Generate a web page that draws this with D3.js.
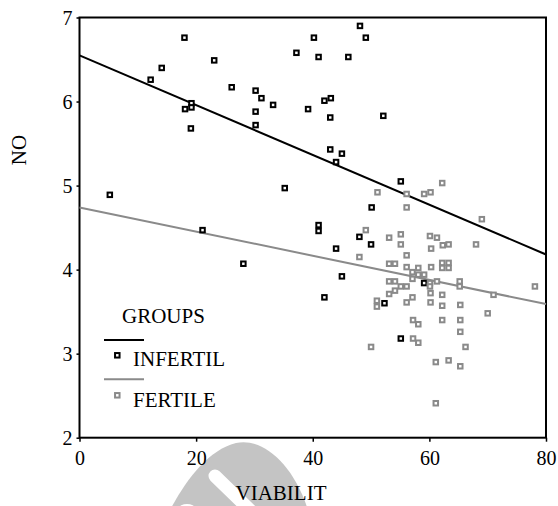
<!DOCTYPE html>
<html>
<head>
<meta charset="utf-8">
<script src="https://cdn.jsdelivr.net/npm/d3@7/dist/d3.min.js"></script>
<style>
  body { margin: 0; background: #fff; }
  svg { display: block; }
  text { font-family: "Liberation Serif", "Times New Roman", serif; fill: #000; }
</style>
</head>
<body>
<svg id="chart" width="558" height="506"></svg>
<script>
var infertilX = [18.0, 14.1, 12.2, 23.1, 26.1, 30.2, 31.2, 33.2, 30.2, 30.2, 19.2, 18.1, 19.2, 19.1, 5.2,
  35.2, 37.2, 39.2, 48.1, 40.2, 49.1, 41.0, 46.1, 43.1, 42.0, 43.0, 52.1, 43.0, 45.0, 44.0,
  55.1, 50.1, 21.1, 28.1, 41.0, 41.0, 48.0, 50.0, 44.0, 45.0, 42.0, 52.3, 59.1, 55.1];
var infertilY = [6.76, 6.40, 6.26, 6.49, 6.17, 6.13, 6.04, 5.96, 5.88, 5.72, 5.98, 5.91, 5.93, 5.68, 4.89,
  4.97, 6.58, 5.91, 6.90, 6.76, 6.76, 6.53, 6.53, 6.04, 6.01, 5.81, 5.83, 5.43, 5.38, 5.28,
  5.05, 4.74, 4.47, 4.07, 4.53, 4.46, 4.39, 4.30, 4.25, 3.92, 3.67, 3.60, 3.84, 3.18];

var fertileX = [62.2, 51.1, 56.1, 59.1, 60.2, 56.1, 69.0, 49.1, 53.1, 55.1, 55.1, 60.1, 61.3, 60.3, 62.3,
  63.3, 68.0, 48.0, 56.1, 53.1, 54.1, 56.1, 58.1, 60.3, 62.2, 63.3, 62.2, 63.3, 57.1, 58.1,
  59.1, 57.1, 53.1, 54.1, 60.1, 61.3, 65.2, 65.2, 55.1, 56.1, 54.1, 60.1, 60.2, 62.2, 53.1,
  56.1, 57.1, 51.0, 51.0, 60.2, 62.2, 65.3, 71.0, 78.1, 70.0, 57.2, 58.1, 62.2, 65.3, 65.3,
  57.2, 58.1, 50.0, 66.2, 61.1, 63.3, 65.3, 61.1];
var fertileY = [5.03, 4.92, 4.90, 4.90, 4.92, 4.74, 4.60, 4.47, 4.38, 4.42, 4.30, 4.40, 4.38, 4.25, 4.29,
  4.30, 4.30, 4.15, 4.17, 4.07, 4.07, 4.03, 4.02, 4.03, 4.08, 4.08, 4.02, 4.02, 3.97, 3.94,
  3.94, 3.89, 3.86, 3.86, 3.84, 3.86, 3.86, 3.80, 3.80, 3.80, 3.75, 3.80, 3.72, 3.70, 3.71,
  3.61, 3.67, 3.63, 3.56, 3.61, 3.57, 3.58, 3.70, 3.80, 3.48, 3.40, 3.35, 3.40, 3.40, 3.26,
  3.18, 3.13, 3.08, 3.08, 2.90, 2.92, 2.85, 2.41];

// fitted lines, value at x=0 and x=80
var fitX = [0, 80];
var infertilFit = [6.55, 4.18];
var fertileFit = [4.74, 3.59];

var xTicks = [0, 20, 40, 60, 80];
var yTicks = [2, 3, 4, 5, 6, 7];

var black = "#000000", grey = "#8a8a8a";
var serif = "'Liberation Serif', 'Times New Roman', serif";

var svg = d3.select("#chart").style("font-family", serif);
var x = d3.scaleLinear().domain([0, 80]).range([79.5, 546]);
var y = d3.scaleLinear().domain([2, 7]).range([437.7, 17.5]);

// watermark behind everything
svg.append("path")
  .attr("d", "M170,510 C186,480 208,450 236,443 C262,437 293,463 308,510 Z")
  .attr("fill", "#c4c4c4");
svg.append("line")
  .attr("x1", 215).attr("y1", 476).attr("x2", 252).attr("y2", 512)
  .attr("stroke", "#fff").attr("stroke-width", 13).attr("stroke-linecap", "round");
svg.append("ellipse")
  .attr("cx", 187).attr("cy", 508).attr("rx", 8).attr("ry", 4).attr("fill", "#fff");

var xAxis = svg.append("g")
  .attr("transform", "translate(0," + y(2) + ")")
  .call(d3.axisBottom(x).tickValues(xTicks).tickFormat(d3.format("d"))
    .tickSize(4).tickSizeOuter(0).tickPadding(9));
var yAxis = svg.append("g")
  .attr("transform", "translate(" + x(0) + ",0)")
  .call(d3.axisLeft(y).tickValues(yTicks).tickFormat(d3.format("d"))
    .tickSize(3).tickSizeOuter(0).tickPadding(4));

[xAxis, yAxis].forEach(function(a){
  a.attr("font-family", serif);
  a.select(".domain").remove();
  a.selectAll(".tick line").attr("stroke", black).attr("stroke-width", 1.5);
  a.selectAll(".tick text").attr("font-size", 20).style("font-family", serif).attr("fill", black);
});
yAxis.selectAll(".tick text").attr("dy", "0.34em");

svg.append("rect")
  .attr("x", x(0)).attr("y", y(7))
  .attr("width", x(80) - x(0)).attr("height", y(2) - y(7))
  .attr("fill", "none").attr("stroke", black).attr("stroke-width", 2);

var line = d3.line()
  .x(function(d){ return x(d[0]); })
  .y(function(d){ return y(d[1]); });

svg.append("path")
  .attr("d", line(d3.zip(fitX, infertilFit)))
  .attr("stroke", black).attr("stroke-width", 2).attr("fill", "none");
svg.append("path")
  .attr("d", line(d3.zip(fitX, fertileFit)))
  .attr("stroke", grey).attr("stroke-width", 2).attr("fill", "none");

var s = 4.5;
function drawPts(xs, ys, col){
  svg.append("g").selectAll("rect")
    .data(d3.zip(xs, ys))
    .enter().append("rect")
    .attr("x", function(d){ return x(d[0]) - s / 2; })
    .attr("y", function(d){ return y(d[1]) - s / 2; })
    .attr("width", s).attr("height", s)
    .attr("fill", "#fff")
    .attr("stroke", col)
    .attr("stroke-width", 2);
}
drawPts(infertilX, infertilY, black);
drawPts(fertileX, fertileY, grey);

// legend
var lg = svg.append("g").attr("font-size", 21);
lg.append("text").attr("x", 122).attr("y", 323).text("GROUPS");
lg.append("line").attr("x1", 104).attr("x2", 144).attr("y1", 340).attr("y2", 340)
  .attr("stroke", black).attr("stroke-width", 2);
lg.append("rect").attr("x", 117.3 - s / 2).attr("y", 355.3 - s / 2).attr("width", s).attr("height", s)
  .attr("fill", "#fff").attr("stroke", black).attr("stroke-width", 2);
lg.append("text").attr("x", 133).attr("y", 366).text("INFERTIL");
lg.append("line").attr("x1", 104).attr("x2", 144).attr("y1", 379.3).attr("y2", 379.3)
  .attr("stroke", grey).attr("stroke-width", 2);
lg.append("rect").attr("x", 117.3 - s / 2).attr("y", 395.3 - s / 2).attr("width", s).attr("height", s)
  .attr("fill", "#fff").attr("stroke", grey).attr("stroke-width", 2);
lg.append("text").attr("x", 133).attr("y", 407).text("FERTILE");

// axis titles
svg.append("text")
  .attr("x", 281).attr("y", 500)
  .attr("text-anchor", "middle").attr("font-size", 21)
  .text("VIABILIT");
svg.append("text")
  .attr("transform", "translate(26,150) rotate(-90)")
  .attr("text-anchor", "middle").attr("font-size", 21)
  .text("NO");
</script>
</body>
</html>
